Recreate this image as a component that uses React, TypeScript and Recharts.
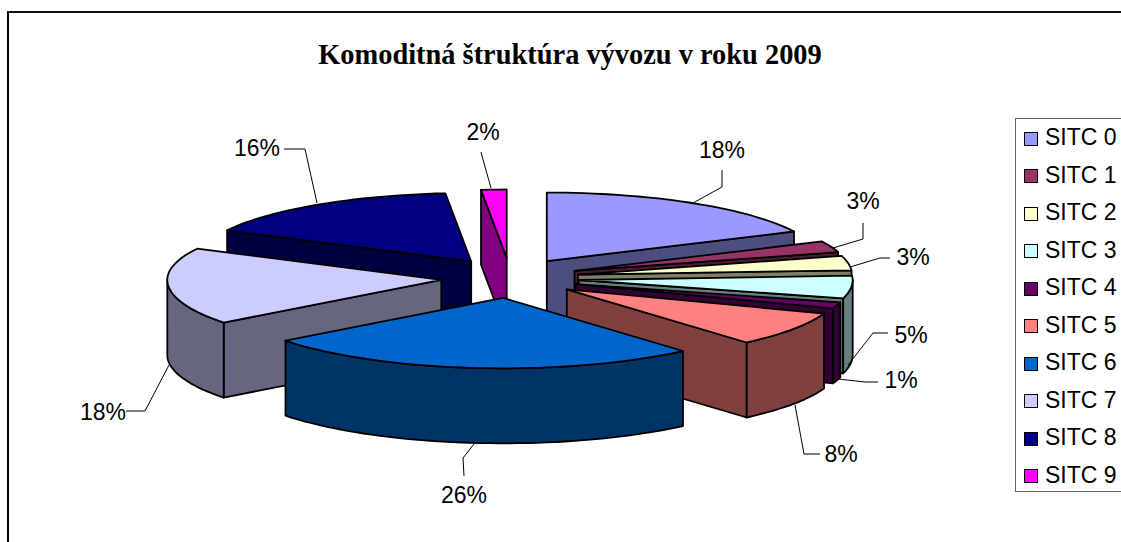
import { FC } from 'react';
import { PieChart, Pie, Legend } from 'recharts';

// shares estimated from the slice edges, the printed labels are the rounded values
const categories = ['SITC 0', 'SITC 1', 'SITC 2', 'SITC 3', 'SITC 4', 'SITC 5', 'SITC 6', 'SITC 7', 'SITC 8', 'SITC 9'];
const shares = [17.9, 2.7, 3.4, 5.2, 1.4, 8.0, 26.0, 17.9, 16.0, 1.5];
const topColors = ['#9999FF', '#993366', '#FFFFCC', '#CCFFFF', '#660066', '#FF8080', '#0066CC', '#CCCCFF', '#000080', '#FF00FF'];
const wallColors = ['#4D4D80', '#4D1A33', '#808066', '#668080', '#330033', '#804040', '#003366', '#666680', '#000040', '#800080'];

const data = categories.map((name, i) => ({ name, value: shares[i], fill: topColors[i] }));

const CX = 510;
const CY = 278;
const RADIUS = 274;
const SQUASH_BACK = 0.25;
const SQUASH_FRONT = 0.257;
const DEPTH = 75;
const EXPLODE_X = 69;
const EXPLODE_Y = 20;

// where Excel put each data label: text centre, then the leader line
const labelLayout = [
  { x: 722, y: 150, line: [[722, 170], [722, 187], [693, 203]] },
  { x: 863, y: 201, line: [[863, 223], [863, 239], [833, 248]] },
  { x: 913, y: 257, line: [[890, 258], [880, 258], [850, 267]] },
  { x: 911, y: 335, line: [[888, 333], [873, 333], [848, 365]] },
  { x: 901, y: 380, line: [[878, 382], [865, 382], [838, 379]] },
  { x: 841, y: 454, line: [[820, 454], [804, 454], [795, 405]] },
  { x: 464, y: 495, line: [[464, 476], [463, 458], [474, 444]] },
  { x: 103, y: 412, line: [[126, 411], [145, 411], [169, 365]] },
  { x: 257, y: 148, line: [[284, 149], [305, 149], [317, 203]] },
  { x: 483, y: 132, line: [[481, 152], [482, 156], [491, 188]] },
];

const rad = (deg: number) => (deg * Math.PI) / 180;
const toPath = (pts: number[][]) => `M${pts.map((p) => `${p[0].toFixed(1)},${p[1].toFixed(1)}`).join('L')}Z`;

const drawSlice = (p: any, layer: number[]) => {
  const idx = categories.indexOf(p.name);
  if (!layer.includes(idx)) {
    return <g />;
  }
  const a0 = 90 - p.startAngle;
  const a1 = 90 - p.endAngle;
  const mid = (a0 + a1) / 2;
  const rx = p.outerRadius;
  const ax = p.cx + EXPLODE_X * Math.sin(rad(mid));
  const ay = p.cy - EXPLODE_Y * Math.cos(rad(mid));
  const rim = (a: number, dz = 0) => {
    const c = Math.cos(rad(a));
    const ry = p.outerRadius * (c < 0 ? SQUASH_FRONT : SQUASH_BACK);
    return [ax + rx * Math.sin(rad(a)), ay - ry * c + dz];
  };
  const arc = (from: number, to: number, dz = 0) => {
    const pts: number[][] = [];
    const steps = Math.max(1, Math.ceil((to - from) / 2));
    for (let i = 0; i <= steps; i += 1) {
      pts.push(rim(from + ((to - from) * i) / steps, dz));
    }
    return pts;
  };
  const apex = [ax, ay];
  const apexLow = [ax, ay + DEPTH];
  const common = { stroke: '#000', strokeWidth: 1.8, strokeLinejoin: 'round' as const };
  const wall = wallColors[idx];
  const from = Math.max(a0, 90);
  const to = Math.min(a1, 270);

  return (
    <g>
      {Math.sin(rad(a0)) < -0.001 && (
        <path d={toPath([apex, rim(a0), rim(a0, DEPTH), apexLow])} fill={wall} {...common} />
      )}
      {Math.sin(rad(a1)) > 0.001 && (
        <path d={toPath([apex, rim(a1), rim(a1, DEPTH), apexLow])} fill={wall} {...common} />
      )}
      {to > from && (
        <path d={toPath([...arc(from, to), ...arc(from, to, DEPTH).reverse()])} fill={wall} {...common} />
      )}
      <path d={toPath([apex, ...arc(a0, a1)])} fill={topColors[idx]} {...common} />
    </g>
  );
};

const drawLabel = (p: any) => {
  const idx = categories.indexOf(p.name);
  const spot = labelLayout[idx];
  return (
    <g key={p.name}>
      <polyline
        points={spot.line.map((q) => q.join(',')).join(' ')}
        fill="none"
        stroke="#000"
        strokeWidth={1}
      />
      <text
        x={spot.x}
        y={spot.y}
        textAnchor="middle"
        dominantBaseline="central"
        fontFamily="Liberation Sans"
        fontSize={23}
        fill="#000"
      >
        {`${Math.round(p.value)}%`}
      </text>
    </g>
  );
};

const LegendBox: FC<any> = ({ payload }) => {
  // every Pie pass reports its slices, one row per category is enough
  const rows = categories.map((name) => (payload || []).find((entry: any) => entry.value === name)).filter(Boolean);
  return (
    <div
      style={{
        width: 130,
        height: 374,
        boxSizing: 'border-box',
        border: '1px solid #666',
        fontFamily: 'Liberation Sans',
        fontSize: 23,
        color: '#000',
      }}
    >
      {rows.map((entry: any) => (
        <div key={entry.value} style={{ display: 'flex', alignItems: 'center', height: 37.5, paddingLeft: 8 }}>
          <span
            style={{
              width: 14,
              height: 14,
              boxSizing: 'border-box',
              border: '1.5px solid #000',
              background: entry.color,
              marginRight: 7,
              marginTop: 2,
            }}
          />
          {entry.value}
        </div>
      ))}
    </div>
  );
};

// painter's order: the back slices first, the front wedge last
const layers = [[8, 9], [7], [0, 1, 2, 3, 4, 5, 6]];

const App: FC = () => (
  <div style={{ position: 'absolute', left: 0, top: 0, width: 1121, height: 542, overflow: 'hidden', background: '#fff' }}>
    <div
      style={{
        position: 'absolute',
        left: 7,
        top: 11,
        width: 1200,
        height: 600,
        borderTop: '2px solid #111',
        borderLeft: '2px solid #000',
      }}
    />
    <PieChart width={1121} height={542} margin={{ top: 0, right: 0, bottom: 0, left: 0 }}>
      <text
        x={570}
        y={54}
        textAnchor="middle"
        dominantBaseline="central"
        fontFamily="Liberation Serif"
        fontWeight="bold"
        fontSize={28.4}
        fill="#000"
      >
        Komoditná štruktúra vývozu v roku 2009
      </text>
      {layers.map((layer, i) => (
        <Pie
          key={i}
          data={data}
          dataKey="value"
          nameKey="name"
          cx={CX}
          cy={CY}
          outerRadius={RADIUS}
          startAngle={90}
          endAngle={-270}
          isAnimationActive={false}
          shape={(p: any) => drawSlice(p, layer)}
          label={i === layers.length - 1 ? drawLabel : false}
          labelLine={false}
        />
      ))}
      <Legend
        content={<LegendBox />}
        layout="vertical"
        wrapperStyle={{ position: 'absolute', left: 1015, top: 118, width: 130, bottom: 'auto', right: 'auto' }}
      />
    </PieChart>
  </div>
);

export default App;
